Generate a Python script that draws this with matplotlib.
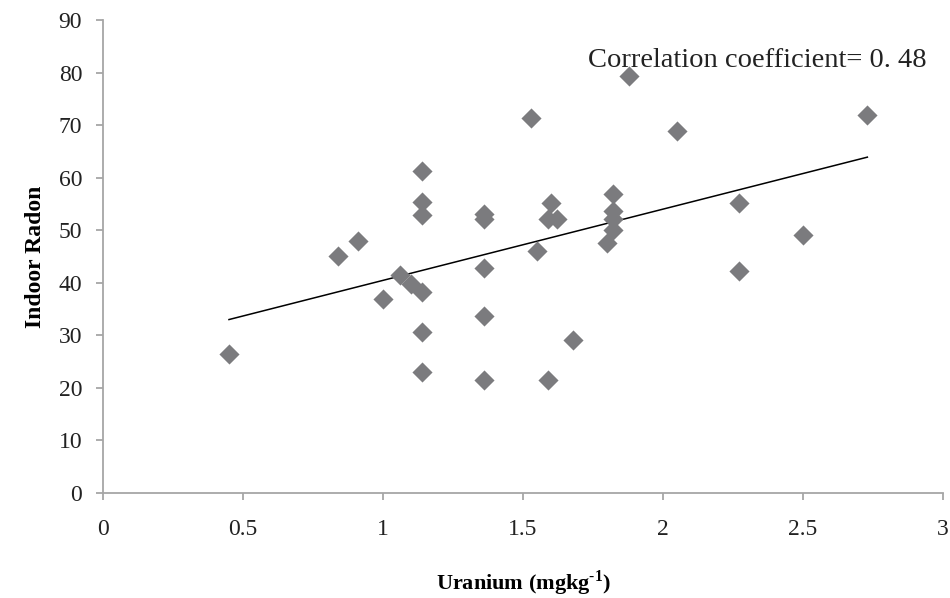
import numpy as np
import matplotlib
matplotlib.use("Agg")
import matplotlib.pyplot as plt

plt.rcParams.update({
    'font.family': 'Liberation Serif',
    'mathtext.fontset': 'custom',
    'mathtext.rm': 'Liberation Serif:bold',
    'mathtext.bf': 'Liberation Serif:bold',
})

# uranium (mg/kg) vs indoor radon
uranium = [0.45, 0.84, 0.91, 1.00, 1.06, 1.10, 1.14, 1.14, 1.14, 1.14, 1.14, 1.14,
           1.36, 1.36, 1.36, 1.36, 1.36, 1.53, 1.55, 1.59, 1.60, 1.62, 1.59, 1.68,
           1.80, 1.82, 1.82, 1.82, 1.82, 1.88, 2.05, 2.27, 2.27, 2.50, 2.73]
radon = [26.5, 45.0, 48.0, 37.0, 41.4, 39.8, 38.3, 61.3, 55.3, 52.9, 30.7, 23.1,
         53.0, 52.1, 42.9, 33.7, 21.5, 71.4, 46.0, 52.1, 55.2, 52.1, 21.5, 29.1,
         47.6, 56.8, 53.6, 52.2, 50.0, 79.4, 68.8, 55.2, 42.3, 49.0, 72.0]

# trend line end points as drawn in the figure
trend_x = [0.45, 2.73]
trend_y = [33.0, 63.9]

x_ticks = [0, 0.5, 1, 1.5, 2, 2.5, 3]
x_tick_labels = ["0", "0.5", "1", "1.5", "2", "2.5", "3"]
y_ticks = list(range(0, 91, 10))

fig = plt.figure(figsize=(9.5, 5.98), dpi=100)
ax = fig.add_axes([0.1084, 0.1756, 0.8842, 0.791])

ax.scatter(uranium, radon, marker="D", s=105, color="#7b7b7e", linewidths=0, zorder=3)
ax.plot(trend_x, trend_y, color="black", linewidth=1.1, zorder=2)

ax.set_xlim(0, 3)
ax.set_ylim(0, 90)
ax.set_xticks(x_ticks)
ax.set_xticklabels(x_tick_labels)
ax.set_yticks(y_ticks)

for side in ["top", "right"]:
    ax.spines[side].set_visible(False)
for side in ["left", "bottom"]:
    ax.spines[side].set_color("#a6a6a6")
    ax.spines[side].set_linewidth(1.3)

ax.tick_params(axis="both", colors="#a6a6a6", length=5, width=1.3, direction="out",
               labelsize=17, labelcolor="#222222")
ax.tick_params(axis="x", pad=14)
ax.tick_params(axis="y", pad=10)

ax.set_xlabel("Uranium (mgkg$^{\\text{-1}}$)", fontsize=16, fontweight="bold", labelpad=20)
ax.set_ylabel("Indoor Radon", fontsize=17, fontweight="bold", labelpad=9)

ax.text(0.981, 0.915, "Correlation coefficient= 0. 48", transform=ax.transAxes,
        ha="right", va="center", fontsize=20.5, color="#222222")

fig.savefig("out.png", dpi=100)
